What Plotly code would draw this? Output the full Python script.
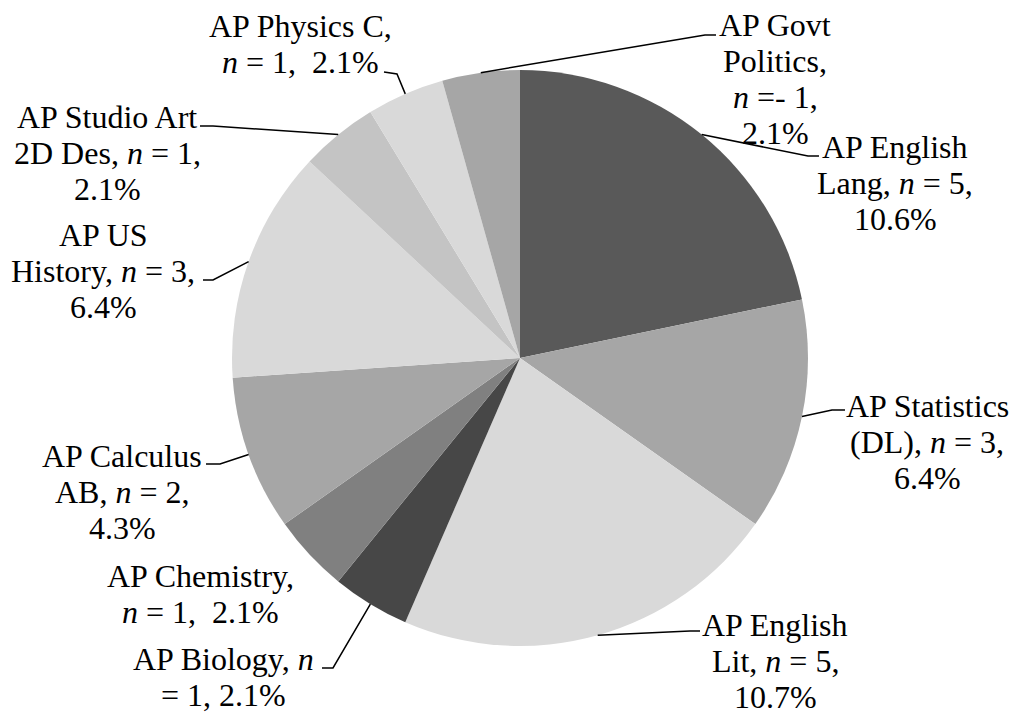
import math
from plotly import graph_objects as go

# data
courses = ["AP English Lang", "AP Statistics (DL)", "AP English Lit", "AP Biology", "AP Chemistry",
           "AP Calculus AB", "AP US History", "AP Studio Art 2D Des", "AP Physics C", "AP Govt Politics"]
counts = [5, 3, 5, 1, 1, 2, 3, 1, 1, 1]
label_lines = [
    ["AP English", "Lang, <i>n</i> = 5,", "10.6%"],
    ["AP Statistics", "(DL), <i>n</i> = 3,", "6.4%"],
    ["AP English", "Lit, <i>n</i> = 5,", "10.7%"],
    ["AP Biology, <i>n</i>", "= 1, 2.1%"],
    ["AP Chemistry,", "<i>n</i> = 1,\u00a0\u00a02.1%"],
    ["AP Calculus", "AB, <i>n</i> = 2,", "4.3%"],
    ["AP US", "History, <i>n</i> = 3,", "6.4%"],
    ["AP Studio Art", "2D Des, <i>n</i> = 1,", "2.1%"],
    ["AP Physics C,", "<i>n</i> = 1,\u00a0\u00a02.1%"],
    ["AP Govt", "Politics,", "<i>n</i> =- 1,", "2.1%"],
]
colors = ["#595959", "#a6a6a6", "#d9d9d9", "#474747", "#808080",
          "#a6a6a6", "#d9d9d9", "#c4c4c4", "#d9d9d9", "#a6a6a6"]

# layout (pixels)
W, H = 1014, 715
cx, cy, r = 520, 358, 288
line_gap = 36
font_family = "Liberation Serif, Times New Roman, DejaVu Serif, serif"
# text centre x, first line centre y
text_pos = [(895, 147), (927, 406), (775, 625), (223, 659), (200, 576),
            (122, 456), (103, 235), (107, 117), (300, 26), (775, 25)]
# leader line: elbow point, end point (None = no line)
leaders = [((808, 156), (819, 156)), ((832, 410), (845, 410)), ((690, 631), (700, 631)),
           ((333, 668), (322, 668)), None,
           ((220, 464), (206, 464)), ((213, 280), (203, 280)), ((213, 126), (200, 126)),
           ((397, 74), (384, 72)), ((705, 35), (716, 35))]


def px(x, y):
    return x / W, 1 - y / H


fig = go.Figure()
fig.add_trace(go.Pie(labels=courses, values=counts, sort=False, direction="clockwise", rotation=0,
                     marker=dict(colors=colors, line=dict(width=0)), textinfo="none",
                     hoverinfo="label+value",
                     domain=dict(x=[(cx - r) / W, (cx + r) / W], y=[1 - (cy + r) / H, 1 - (cy - r) / H])))

total = sum(counts)
cum = 0
annotations = []
shapes = []
for i, v in enumerate(counts):
    mid = 2 * math.pi * (cum + v / 2) / total
    cum += v
    ax, ay = cx + r * math.sin(mid), cy - r * math.cos(mid)
    tx, ty = text_pos[i]
    for k, t in enumerate(label_lines[i]):
        x, y = px(tx, ty + k * line_gap)
        annotations.append(dict(x=x, y=y, xref="paper", yref="paper", text=t, showarrow=False,
                                xanchor="center", yanchor="middle",
                                font=dict(family=font_family, size=32, color="black")))
    if leaders[i]:
        (ex, ey), (fx, fy) = leaders[i]
        p = [px(ax, ay), px(ex, ey), px(fx, fy)]
        path = "M {:.5f},{:.5f} L {:.5f},{:.5f} L {:.5f},{:.5f}".format(*p[0], *p[1], *p[2])
        shapes.append(dict(type="path", path=path, xref="paper", yref="paper",
                           line=dict(color="black", width=1.5)))

fig.update_layout(width=W, height=H, margin=dict(l=0, r=0, t=0, b=0), showlegend=False,
                  paper_bgcolor="white", plot_bgcolor="white", font=dict(family=font_family),
                  annotations=annotations, shapes=shapes)
fig.write_html("out.html", post_script="document.body.style.margin='0';",
               config={"displayModeBar": False})
